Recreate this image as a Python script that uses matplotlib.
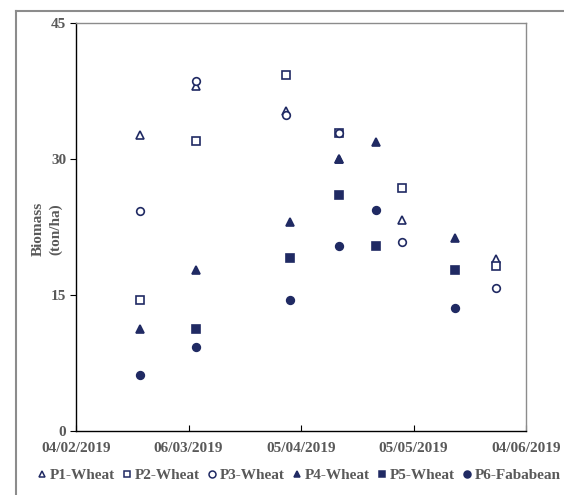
import numpy as np
import matplotlib
matplotlib.use("Agg")
import matplotlib.pyplot as plt
import matplotlib.dates as mdates
from matplotlib.lines import Line2D

# sampling dates and biomass (ton/ha) per plot
p1_dates = ["2019-02-21", "2019-03-08", "2019-04-01", "2019-04-15", "2019-05-02", "2019-05-27"]
p1_vals = [32.6, 38.0, 35.3, 30.0, 23.3, 19.0]
p2_dates = ["2019-02-21", "2019-03-08", "2019-04-01", "2019-04-15", "2019-05-02", "2019-05-27"]
p2_vals = [14.5, 32.0, 39.3, 32.9, 26.8, 18.2]
p3_dates = ["2019-02-21", "2019-03-08", "2019-04-01", "2019-04-15", "2019-05-02", "2019-05-27"]
p3_vals = [24.3, 38.6, 34.8, 32.9, 20.8, 15.8]
p4_dates = ["2019-02-21", "2019-03-08", "2019-04-02", "2019-04-15", "2019-04-25", "2019-05-16"]
p4_vals = [11.3, 17.8, 23.0, 30.0, 31.9, 21.3]
p5_dates = ["2019-03-08", "2019-04-02", "2019-04-15", "2019-04-25", "2019-05-16"]
p5_vals = [11.3, 19.1, 26.0, 20.4, 17.8]
p6_dates = ["2019-02-21", "2019-03-08", "2019-04-02", "2019-04-15", "2019-04-25", "2019-05-16"]
p6_vals = [6.2, 9.3, 14.4, 20.4, 24.4, 13.6]

labels = ["P1-Wheat", "P2-Wheat", "P3-Wheat", "P4-Wheat", "P5-Wheat", "P6-Fababean"]
tick_dates = ["2019-02-04", "2019-03-06", "2019-04-05", "2019-05-05", "2019-06-04"]
y_ticks = [0, 15, 30, 45]

navy = "#202A63"
grey_text = "#595959"
plt.rcParams["font.family"] = ["Liberation Serif", "DejaVu Serif"]
plt.rcParams["font.weight"] = "bold"

fig = plt.figure(figsize=(5.64, 4.95), dpi=100)
ax = fig.add_axes([76 / 564, 1 - 431 / 495, 450 / 564, 408 / 495])

series = [
    (p1_dates, p1_vals, "^", False),
    (p2_dates, p2_vals, "s", False),
    (p3_dates, p3_vals, "o", False),
    (p4_dates, p4_vals, "^", True),
    (p5_dates, p5_vals, "s", True),
    (p6_dates, p6_vals, "o", True),
]
handles = []
for (d, v, m, filled), lab in zip(series, labels):
    x = np.array(d, dtype="datetime64[D]")
    fc = navy if filled else "white"
    ax.plot(x, v, linestyle="none", marker=m, markersize=5.5,
            markerfacecolor=fc, markeredgecolor=navy, markeredgewidth=1.2)
    handles.append(Line2D([], [], linestyle="none", marker=m, markersize=5,
                          markerfacecolor=fc, markeredgecolor=navy,
                          markeredgewidth=1.1, label=lab))

ax.set_xlim(np.datetime64("2019-02-04"), np.datetime64("2019-06-04"))
ax.set_ylim(0, 45)
ax.set_xticks(np.array(tick_dates, dtype="datetime64[D]"))
ax.xaxis.set_major_formatter(mdates.DateFormatter("%d/%m/%Y"))
ax.set_yticks(y_ticks)
ax.tick_params(axis="x", direction="in", length=4, colors="black",
               labelcolor=grey_text, labelsize=11, pad=8)
ax.tick_params(axis="y", direction="out", length=4, colors="black",
               labelcolor=grey_text, labelsize=11, pad=3)

ax.spines["left"].set_color("black")
ax.spines["bottom"].set_color("black")
ax.spines["top"].set_color("#8c8c8c")
ax.spines["right"].set_color("#8c8c8c")
for s in ax.spines.values():
    s.set_linewidth(1.0)

# axis title placed by hand, two stacked lines
fig.text(47 / 564, 1 - 229 / 495, "Biomass\n(ton/ha)", rotation=90,
         ha="center", va="center", color=grey_text, fontsize=11,
         fontweight="bold", linespacing=1.45)

fig.legend(handles=handles, loc="center", bbox_to_anchor=(299 / 564, 1 - 475 / 495),
           ncol=6, frameon=False, fontsize=11, handlelength=0.6,
           handletextpad=0.25, columnspacing=0.45, labelcolor=grey_text)

# outer frame of the chart area
fig.add_artist(Line2D([16 / 564, 16 / 564], [0, 1 - 11 / 495],
                      transform=fig.transFigure, color="#8c8c8c", lw=1.5))
fig.add_artist(Line2D([16 / 564, 1], [1 - 11 / 495, 1 - 11 / 495],
                      transform=fig.transFigure, color="#8c8c8c", lw=1.5))

fig.savefig("out.png", dpi=100)
